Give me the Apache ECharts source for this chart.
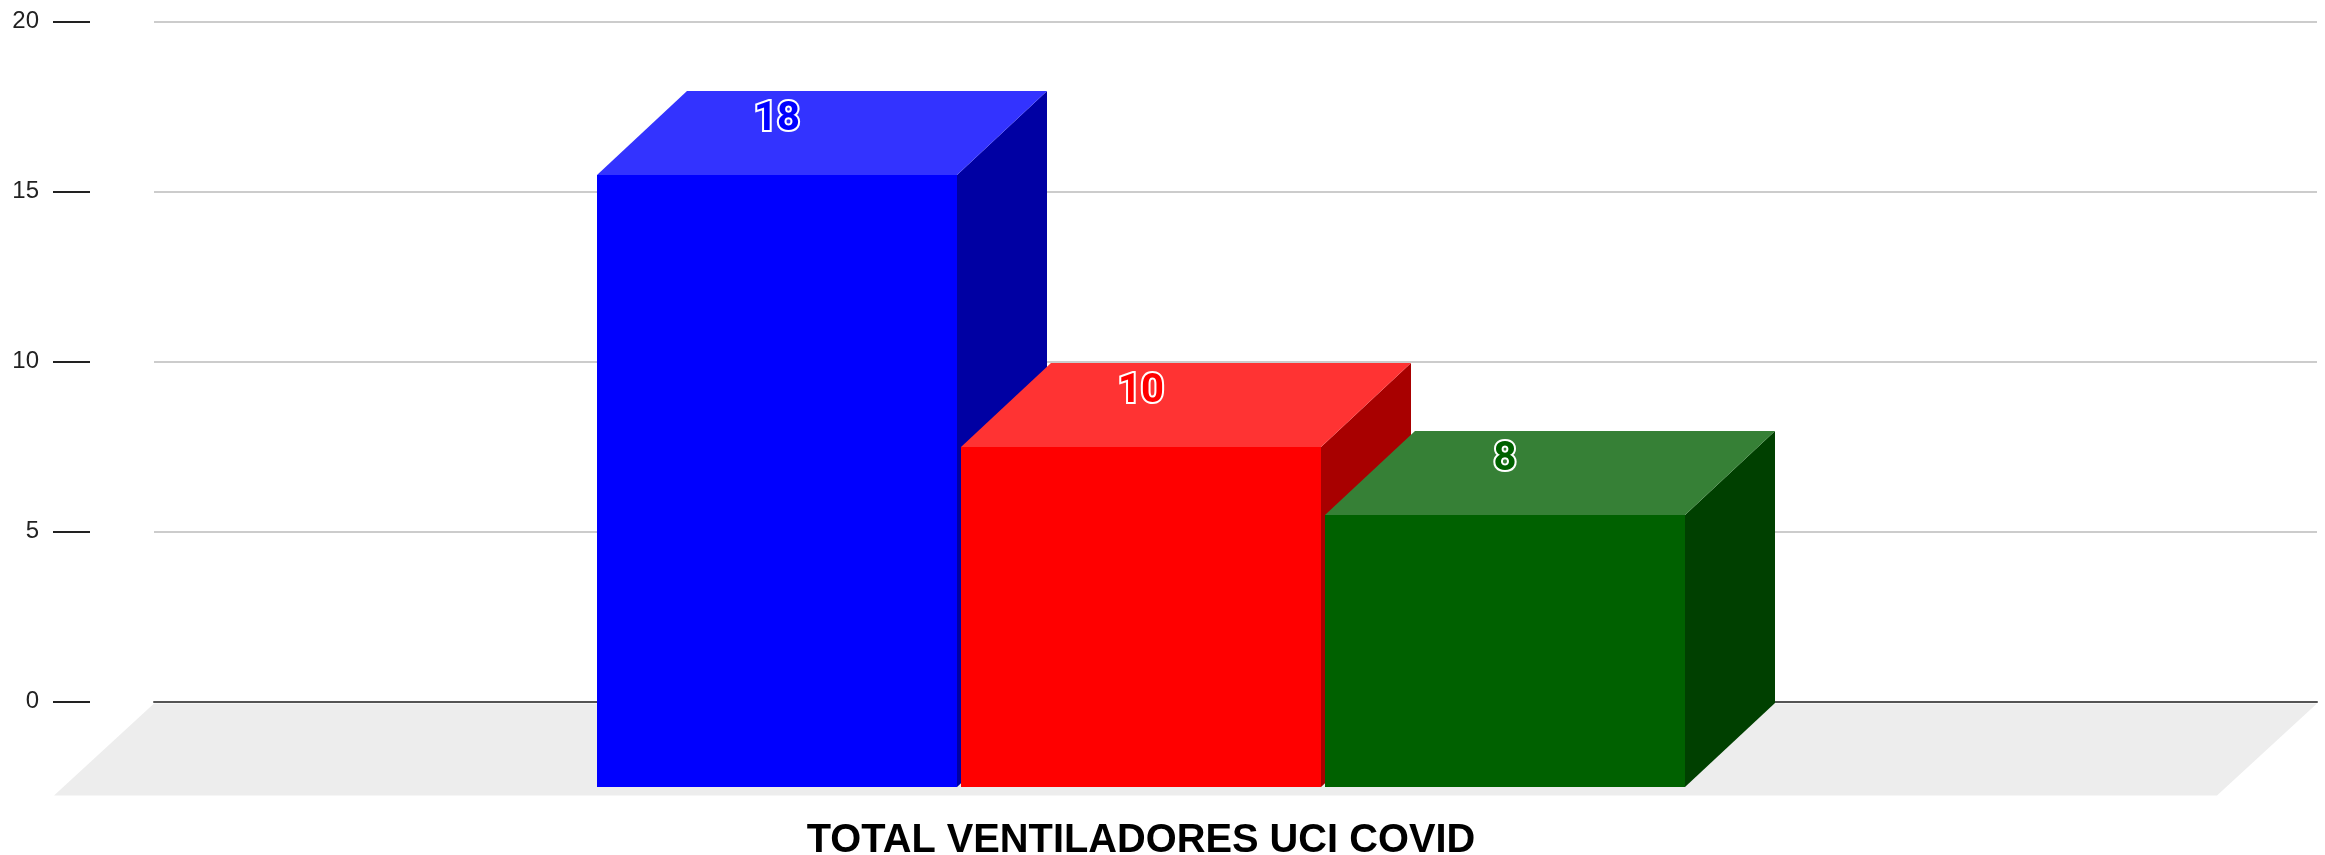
<!DOCTYPE html>
<html>
<head>
<meta charset="utf-8">
<style>
  html, body { margin: 0; padding: 0; background: #fff; }
  #chart { width: 2325px; height: 855px; }
</style>
<script src="https://cdn.jsdelivr.net/npm/echarts@6/dist/echarts.min.js"></script>
</head>
<body>
<div id="chart"></div>
<script>
const categories = ["TOTAL VENTILADORES UCI COVID"];
const ventiladores = [18, 10, 8];
const yTicks = { min: 0, max: 20, interval: 5 };

const frontColors = ["#0000ff", "#ff0000", "#006100"];
const topColors = ["#3333ff", "#ff3333", "#368036"];
const sideColors = ["#0000a3", "#a80000", "#004000"];

// depth of the fake 3d box, in px
const depthX = 90;
const depthY = 84;
const barWidth = 360;
const barGap = 4;

function renderFloor(params, api) {
    const cs = params.coordSys;
    const y = api.coord([0, 0])[1] + 2;
    const left = cs.x;
    const right = cs.x + cs.width;
    return {
        type: "polygon",
        shape: {
            points: [
                [left, y],
                [right, y],
                [right - 100, y + 92],
                [left - 100, y + 92]
            ]
        },
        style: { fill: "#ededed" }
    };
}

function renderBox(params, api) {
    const i = params.dataIndex;
    const center = api.coord([api.value(0), 0]);
    const top = api.coord([api.value(0), api.value(1)])[1];
    const bottom = center[1];
    const x0 = center[0] + (i - 1) * (barWidth + barGap) - barWidth / 2;
    const x1 = x0 + barWidth;

    return {
        type: "group",
        children: [
            {
                type: "polygon",
                shape: { points: [[x1, top], [x1 + depthX, top - depthY], [x1 + depthX, bottom - depthY], [x1, bottom]] },
                style: { fill: sideColors[i] }
            },
            {
                type: "polygon",
                shape: { points: [[x0, top], [x0 + depthX, top - depthY], [x1 + depthX, top - depthY], [x1, top]] },
                style: { fill: topColors[i] }
            },
            {
                type: "rect",
                shape: { x: x0, y: top, width: barWidth, height: bottom - top },
                style: { fill: frontColors[i] }
            },
            {
                type: "text",
                x: center[0] + (i - 1) * (barWidth + barGap),
                y: top - depthY + 29,
                style: {
                    text: String(api.value(1)),
                    font: "bold 40px Roboto",
                    fill: frontColors[i],
                    stroke: "#fff",
                    lineWidth: 4,
                    strokeFirst: true,
                    align: "center",
                    verticalAlign: "middle"
                }
            }
        ]
    };
}

const chart = echarts.init(document.getElementById("chart"));

chart.setOption({
    animation: false,
    grid: [
        // back wall with the gridlines
        { left: 154, right: 8, top: 21.5, height: 680, outerBoundsMode: "none" },
        // front plane of the boxes
        { left: 54, width: 2174, top: 107, height: 680, outerBoundsMode: "none" }
    ],
    xAxis: [
        {
            gridIndex: 0,
            type: "category",
            data: categories,
            axisLine: { lineStyle: { color: "#555", width: 2 } },
            axisTick: { show: false },
            axisLabel: { show: false }
        },
        {
            gridIndex: 1,
            type: "category",
            data: categories,
            axisLine: { show: false },
            axisTick: { show: false },
            axisLabel: {
                margin: 34,
                fontFamily: "Liberation Sans",
                fontSize: 39.8,
                fontWeight: "bold",
                color: "#000"
            }
        }
    ],
    yAxis: [
        {
            gridIndex: 0,
            type: "value",
            min: yTicks.min,
            max: yTicks.max,
            interval: yTicks.interval,
            offset: 64,
            axisLine: { show: false },
            axisTick: { show: true, length: 37, lineStyle: { color: "#222", width: 2 } },
            axisLabel: { margin: 51, fontFamily: "Liberation Sans", fontSize: 24, color: "#222" },
            splitLine: { lineStyle: { color: "#ccc", width: 2 } }
        },
        {
            gridIndex: 1,
            type: "value",
            min: yTicks.min,
            max: yTicks.max,
            interval: yTicks.interval,
            show: false
        }
    ],
    series: [
        {
            type: "custom",
            xAxisIndex: 0,
            yAxisIndex: 0,
            z: 1,
            renderItem: renderFloor,
            data: [[0, 0]],
            silent: true
        },
        {
            type: "custom",
            xAxisIndex: 1,
            yAxisIndex: 1,
            z: 3,
            renderItem: renderBox,
            encode: { x: 0, y: 1 },
            data: ventiladores.map(v => [0, v])
        }
    ]
});
</script>
</body>
</html>
